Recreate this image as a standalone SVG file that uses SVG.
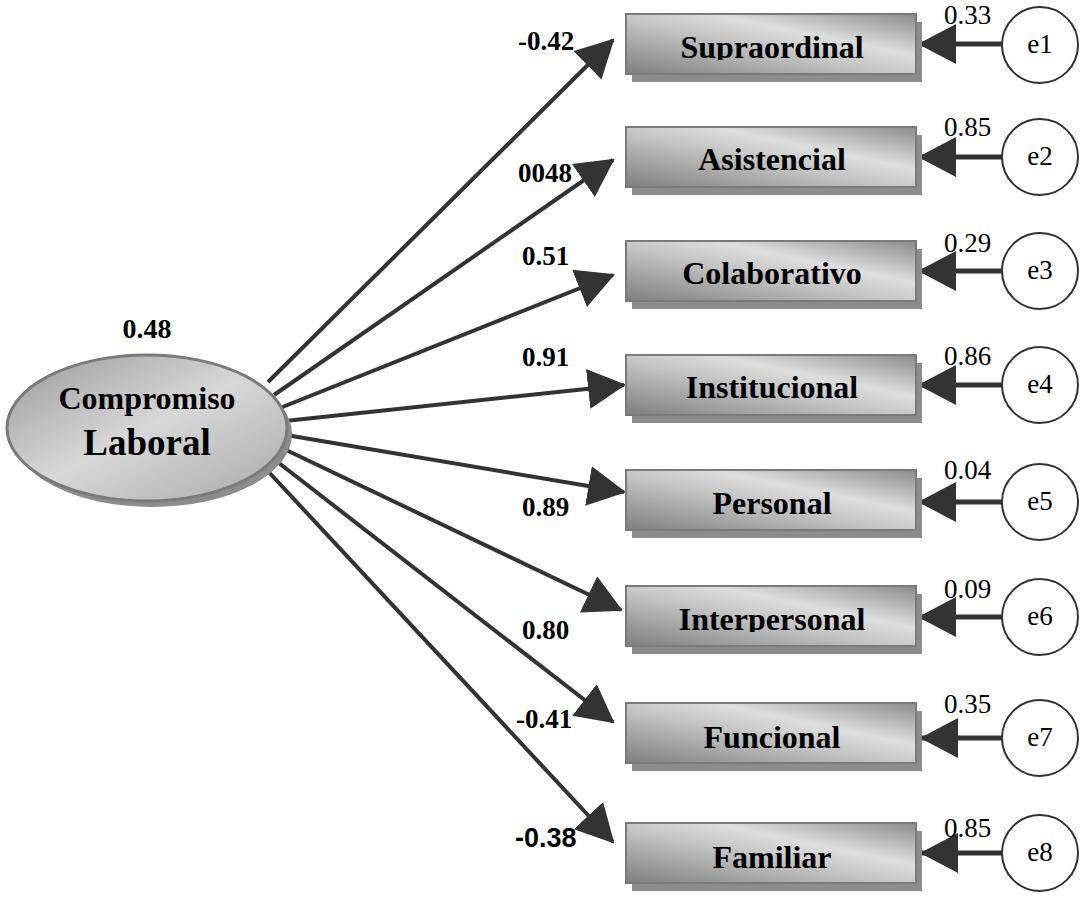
<svg xmlns="http://www.w3.org/2000/svg" width="1088" height="900" viewBox="0 0 1088 900">
<style>
.box{fill:url(#boxg);stroke:#7a7a7a;stroke-width:2}
.shadow{fill:#8c8c8c}
.bt{font-family:"Liberation Serif",serif;font-weight:bold;font-size:32px;text-anchor:middle;fill:#000}
.err{fill:#fff;stroke:#333;stroke-width:2}
.et{font-family:"Liberation Serif",serif;font-size:27px;text-anchor:middle;fill:#000}
.ev{font-family:"Liberation Serif",serif;font-size:27px;fill:#000}
.lv{font-family:"Liberation Serif",serif;font-weight:bold;font-size:27px;fill:#000}
.conn{stroke:#333;stroke-width:4;fill:none;marker-end:url(#ah)}
.econn{stroke:#333;stroke-width:5;fill:none;marker-end:url(#ah)}
</style>
<defs>
<linearGradient id="boxg" x1="0" y1="1" x2="1" y2="0">
<stop offset="0" stop-color="#7e7e7e"/>
<stop offset="0.45" stop-color="#c4c4c4"/>
<stop offset="0.65" stop-color="#dedede"/>
<stop offset="1" stop-color="#8a8a8a"/>
</linearGradient>
<linearGradient id="ellg" x1="0" y1="0" x2="1" y2="1">
<stop offset="0" stop-color="#9a9a9a"/>
<stop offset="0.5" stop-color="#d8d8d8"/>
<stop offset="1" stop-color="#a8a8a8"/>
</linearGradient>
<marker id="ah" markerUnits="userSpaceOnUse" markerWidth="40" markerHeight="42" refX="36" refY="20" orient="auto">
<path d="M0,0 L38,20 L0,40 z" fill="#333"/>
</marker>
<clipPath id="c1"><rect x="620" y="10" width="300" height="50"/></clipPath>
<clipPath id="c6"><rect x="620" y="580" width="300" height="52"/></clipPath>
</defs>

<g id="connectors">
<line class="conn" x1="268" y1="382" x2="613" y2="40"/>
<line class="conn" x1="274" y1="395" x2="613" y2="160"/>
<line class="conn" x1="280" y1="408" x2="613" y2="275"/>
<line class="conn" x1="285" y1="421" x2="624" y2="385"/>
<line class="conn" x1="286" y1="435" x2="624" y2="492"/>
<line class="conn" x1="282" y1="448" x2="621" y2="610"/>
<line class="conn" x1="275" y1="460" x2="613" y2="722"/>
<line class="conn" x1="265" y1="468" x2="613" y2="842"/>
<line class="econn" x1="1002" y1="44" x2="920" y2="44"/>
<line class="econn" x1="1002" y1="157" x2="920" y2="157"/>
<line class="econn" x1="1002" y1="271" x2="920" y2="271"/>
<line class="econn" x1="1002" y1="385" x2="920" y2="385"/>
<line class="econn" x1="1002" y1="502" x2="920" y2="502"/>
<line class="econn" x1="1002" y1="617" x2="920" y2="617"/>
<line class="econn" x1="1002" y1="738" x2="922" y2="738"/>
<line class="econn" x1="1002" y1="853" x2="922" y2="853"/>
<text class="lv" x="518" y="50">-0.42</text>
<text class="lv" x="518" y="182">0048</text>
<text class="lv" x="522" y="265">0.51</text>
<text class="lv" x="522" y="366">0.91</text>
<text class="lv" x="522" y="516">0.89</text>
<text class="lv" x="522" y="639">0.80</text>
<text class="lv" x="516" y="728">-0.41</text>
<text x="515" y="847" style="font-family:'Liberation Sans',sans-serif;font-weight:bold;font-size:27px;fill:#000">-0.38</text>
</g>

<g id="latent">
<ellipse cx="152" cy="434" rx="140" ry="73" fill="#8c8c8c"/>
<ellipse cx="147" cy="428" rx="140" ry="73" fill="url(#ellg)" stroke="#7a7a7a" stroke-width="3"/>
<text class="bt" x="147" y="409" style="font-size:32px">Compromiso</text>
<text class="bt" x="147" y="455" style="font-size:37px">Laboral</text>
<text class="lv" x="147" y="338" text-anchor="middle" style="font-size:28px">0.48</text>
</g>

<g id="n1"><rect class="shadow" x="632" y="22" width="290" height="60"/><rect class="box" x="626" y="14" width="290" height="60"/><text class="bt" x="772" y="58" clip-path="url(#c1)">Supraordinal</text></g>
<g id="n2"><rect class="shadow" x="632" y="135" width="290" height="60"/><rect class="box" x="626" y="127" width="290" height="60"/><text class="bt" x="772" y="170">Asistencial</text></g>
<g id="n3"><rect class="shadow" x="632" y="249" width="290" height="60"/><rect class="box" x="626" y="241" width="290" height="60"/><text class="bt" x="772" y="284">Colaborativo</text></g>
<g id="n4"><rect class="shadow" x="632" y="363" width="290" height="60"/><rect class="box" x="626" y="355" width="290" height="60"/><text class="bt" x="772" y="398">Institucional</text></g>
<g id="n5"><rect class="shadow" x="632" y="478" width="290" height="60"/><rect class="box" x="626" y="470" width="290" height="60"/><text class="bt" x="772" y="514">Personal</text></g>
<g id="n6"><rect class="shadow" x="632" y="594" width="290" height="60"/><rect class="box" x="626" y="586" width="290" height="60"/><text class="bt" x="772" y="630" clip-path="url(#c6)">Interpersonal</text></g>
<g id="n7"><rect class="shadow" x="632" y="711" width="290" height="60"/><rect class="box" x="626" y="703" width="290" height="60"/><text class="bt" x="772" y="748">Funcional</text></g>
<g id="n8"><rect class="shadow" x="632" y="831" width="290" height="60"/><rect class="box" x="626" y="823" width="290" height="60"/><text class="bt" x="772" y="868">Familiar</text></g>

<g id="e1"><circle class="err" cx="1040" cy="45" r="38"/><text class="et" x="1040" y="53">e1</text><text class="ev" x="944" y="24">0.33</text></g>
<g id="e2"><circle class="err" cx="1040" cy="157" r="38"/><text class="et" x="1040" y="165">e2</text><text class="ev" x="944" y="136">0.85</text></g>
<g id="e3"><circle class="err" cx="1040" cy="271" r="38"/><text class="et" x="1040" y="279">e3</text><text class="ev" x="944" y="252">0.29</text></g>
<g id="e4"><circle class="err" cx="1040" cy="385" r="38"/><text class="et" x="1040" y="393">e4</text><text class="ev" x="944" y="365">0.86</text></g>
<g id="e5"><circle class="err" cx="1040" cy="502" r="38"/><text class="et" x="1040" y="510">e5</text><text class="ev" x="944" y="479">0.04</text></g>
<g id="e6"><circle class="err" cx="1040" cy="617" r="38"/><text class="et" x="1040" y="625">e6</text><text class="ev" x="944" y="598">0.09</text></g>
<g id="e7"><circle class="err" cx="1040" cy="738" r="38"/><text class="et" x="1040" y="746">e7</text><text class="ev" x="944" y="713">0.35</text></g>
<g id="e8"><circle class="err" cx="1040" cy="853" r="38"/><text class="et" x="1040" y="861">e8</text><text class="ev" x="944" y="837">0.85</text></g>
</svg>
